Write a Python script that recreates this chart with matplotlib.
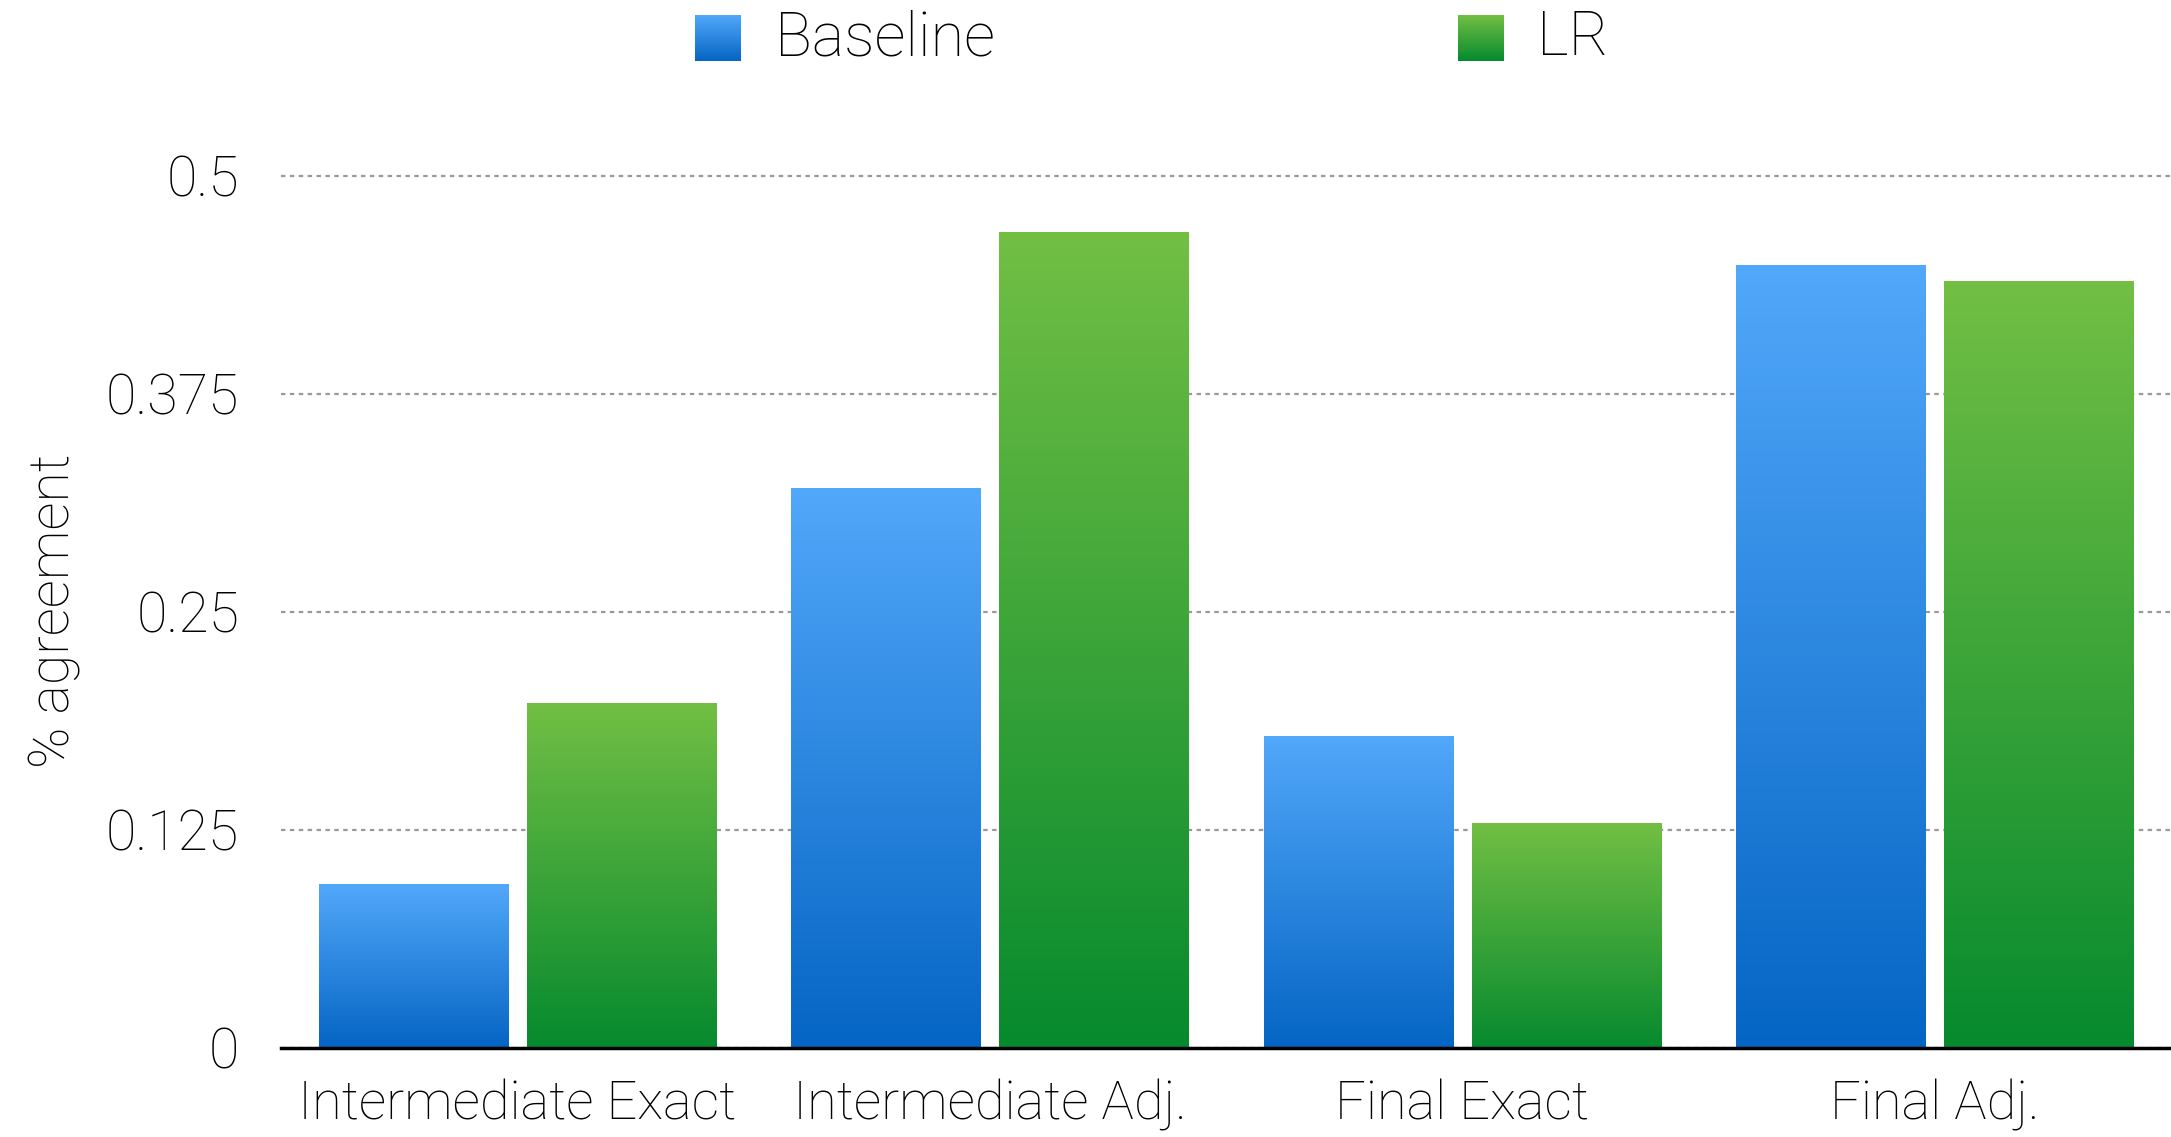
import numpy as np
import matplotlib.pyplot as plt
from matplotlib.colors import LinearSegmentedColormap

categories = ['Intermediate Exact', 'Intermediate Adj.', 'Final Exact', 'Final Adj.']
baseline = [0.094, 0.321, 0.179, 0.449]
lr = [0.198, 0.468, 0.129, 0.440]
series_names = ['Baseline', 'LR']
yticks = [0, 0.125, 0.25, 0.375, 0.5]
ytick_labels = ['0', '0.125', '0.25', '0.375', '0.5']

plt.rcParams['font.family'] = ['Roboto', 'DejaVu Sans']
plt.rcParams['font.weight'] = 'light'
plt.rcParams['axes.labelweight'] = 'light'

blue_cmap = LinearSegmentedColormap.from_list('blue', ['#0565C4', '#52A8FA'])
green_cmap = LinearSegmentedColormap.from_list('green', ['#068A2E', '#72BF44'])

fig = plt.figure(figsize=(21.71, 11.37), dpi=100)
ax = fig.add_axes([0.1294, 0.0783, 0.8706, 0.7977])

x = np.arange(len(categories))
width = 0.40
offset = 0.22

grad = np.linspace(0, 1, 256).reshape(-1, 1)


def gradient_bars(bars, cmap):
    for bar in bars:
        x0 = bar.get_x()
        w = bar.get_width()
        h = bar.get_height()
        im = ax.imshow(grad, cmap=cmap, origin='lower', aspect='auto',
                       extent=(x0, x0 + w, 0, h), zorder=3)
        im.set_clip_path(bar)


bars1 = ax.bar(x - offset, baseline, width, facecolor='none', edgecolor='none', zorder=3)
bars2 = ax.bar(x + offset, lr, width, facecolor='none', edgecolor='none', zorder=3)
gradient_bars(bars1, blue_cmap)
gradient_bars(bars2, green_cmap)

ax.set_xlim(-0.5, 3.5)
ax.set_ylim(0, 0.52)
ax.set_yticks(yticks)
ax.set_yticklabels(ytick_labels)
ax.set_xticks(x)
ax.set_xticklabels(categories)
ax.tick_params(axis='y', length=0, pad=30, labelsize=40, labelcolor='black')
ax.tick_params(axis='x', length=0, pad=22, labelsize=39, labelcolor='black')

ax.yaxis.grid(True, linestyle=(0, (2, 2)), color='#999999', linewidth=1.6)
ax.set_axisbelow(True)
for s in ['top', 'right', 'left']:
    ax.spines[s].set_visible(False)
ax.spines['bottom'].set_linewidth(2.5)
ax.spines['bottom'].set_zorder(5)

ax.set_ylabel('% agreement', fontsize=40, fontweight='light')
ax.yaxis.set_label_coords(-0.106, 0.482)

# legend with gradient squares
for cmap, name, lx, tx in [(blue_cmap, series_names[0], 695, 775),
                           (green_cmap, series_names[1], 1458, 1537)]:
    lax = fig.add_axes([lx / 2171, 1 - 61 / 1137, 46 / 2171, 46 / 1137])
    lax.imshow(grad, cmap=cmap, origin='lower', aspect='auto')
    lax.axis('off')
    fig.text(tx / 2171, 1 - 38 / 1137, name, fontsize=44, va='center', ha='left')

fig.savefig('out.png', dpi=100)
